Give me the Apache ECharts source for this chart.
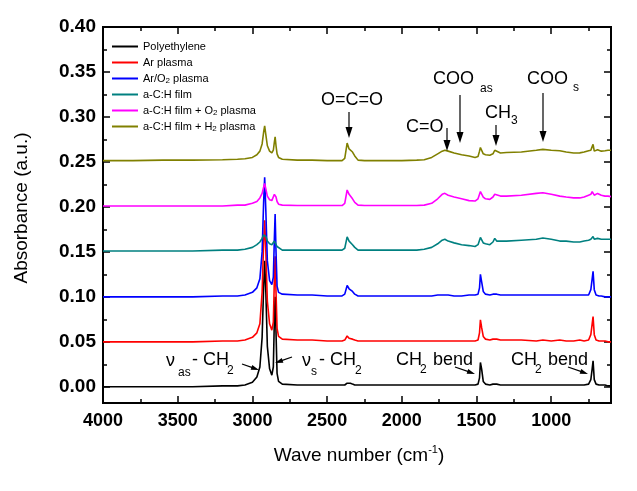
<!DOCTYPE html>
<html><head><meta charset="utf-8">
<script src="https://cdn.jsdelivr.net/npm/echarts@6/dist/echarts.min.js"></script>
<style>html,body{margin:0;padding:0;background:#fff}#c{width:637px;height:491px}</style>
</head><body><div id="c"></div>
<script>
// ---- data ----
const wavenumbers = [4000,3800,3600,3400,3200,3100,3050,3000,2970,2950,2935,2925,2918,2910,2900,2885,2870,2860,2853,2848,2842,2835,2825,2800,2700,2600,2500,2400,2382,2366,2353,2344,2330,2315,2293,2250,2100,2000,1900,1850,1800,1760,1730,1712,1690,1650,1600,1550,1510,1490,1480,1474,1466,1455,1440,1411,1390,1378,1365,1340,1300,1200,1100,1056,1000,943,900,850,809,780,750,735,726,720,712,700,690,680,665,640,620,600];

const polyethylene = [0.000,0.000,0.000,0.000,0.001,0.001,0.002,0.005,0.011,0.022,0.055,0.110,0.140,0.105,0.045,0.020,0.013,0.022,0.075,0.100,0.060,0.015,0.006,0.003,0.002,0.002,0.002,0.002,0.002,0.004,0.003,0.004,0.003,0.002,0.002,0.002,0.002,0.002,0.002,0.002,0.002,0.002,0.002,0.002,0.002,0.002,0.002,0.002,0.002,0.003,0.010,0.027,0.020,0.006,0.003,0.002,0.003,0.005,0.003,0.002,0.002,0.002,0.002,0.002,0.002,0.002,0.002,0.002,0.002,0.002,0.003,0.008,0.020,0.029,0.008,0.003,0.002,0.002,0.002,0.002,0.001,0.001];

const arPlasma = [0.050,0.050,0.050,0.050,0.051,0.051,0.052,0.055,0.060,0.070,0.105,0.160,0.185,0.150,0.095,0.070,0.063,0.072,0.120,0.145,0.105,0.065,0.056,0.053,0.052,0.052,0.051,0.051,0.052,0.0565,0.054,0.055,0.053,0.052,0.051,0.051,0.051,0.051,0.051,0.051,0.051,0.051,0.051,0.051,0.051,0.051,0.051,0.051,0.051,0.052,0.060,0.0745,0.066,0.056,0.053,0.052,0.053,0.054,0.053,0.052,0.052,0.052,0.051,0.052,0.051,0.052,0.051,0.051,0.052,0.051,0.052,0.058,0.070,0.078,0.058,0.052,0.052,0.051,0.051,0.051,0.050,0.050];

const arO2Plasma = [0.100,0.100,0.100,0.100,0.101,0.101,0.102,0.105,0.110,0.120,0.150,0.205,0.233,0.195,0.140,0.118,0.1135,0.122,0.165,0.192,0.150,0.112,0.105,0.103,0.102,0.102,0.101,0.101,0.103,0.1127,0.109,0.110,0.106,0.103,0.101,0.101,0.101,0.101,0.101,0.101,0.101,0.102,0.102,0.102,0.102,0.101,0.101,0.102,0.102,0.103,0.110,0.125,0.117,0.106,0.103,0.102,0.103,0.105,0.103,0.102,0.102,0.102,0.102,0.102,0.102,0.102,0.102,0.102,0.102,0.102,0.102,0.108,0.120,0.1285,0.108,0.102,0.102,0.101,0.101,0.100,0.100,0.100];

const acHFilm = [0.151,0.151,0.151,0.151,0.152,0.152,0.153,0.155,0.158,0.161,0.165,0.169,0.171,0.167,0.162,0.159,0.158,0.160,0.162,0.163,0.160,0.156,0.154,0.152,0.152,0.152,0.152,0.152,0.154,0.1667,0.162,0.163,0.158,0.155,0.152,0.152,0.152,0.152,0.152,0.153,0.155,0.159,0.163,0.164,0.162,0.160,0.158,0.157,0.156,0.158,0.163,0.166,0.164,0.160,0.159,0.158,0.161,0.165,0.162,0.162,0.162,0.163,0.164,0.1655,0.164,0.162,0.162,0.161,0.161,0.162,0.163,0.164,0.166,0.167,0.164,0.164,0.165,0.164,0.164,0.164,0.164,0.164];

const acHO2Plasma = [0.201,0.201,0.201,0.201,0.201,0.202,0.202,0.204,0.206,0.210,0.215,0.222,0.226,0.220,0.212,0.208,0.207,0.209,0.214,0.216,0.211,0.206,0.203,0.202,0.2015,0.2015,0.2015,0.2015,0.204,0.2188,0.214,0.215,0.209,0.205,0.202,0.2015,0.2015,0.2015,0.2015,0.202,0.204,0.209,0.214,0.2151,0.213,0.211,0.209,0.207,0.2065,0.209,0.214,0.217,0.215,0.211,0.209,0.2084,0.211,0.214,0.212,0.212,0.212,0.213,0.215,0.2158,0.214,0.212,0.211,0.210,0.210,0.211,0.213,0.214,0.217,0.2184,0.213,0.214,0.215,0.213,0.213,0.212,0.212,0.2114];

const acHH2Plasma = [0.2515,0.2515,0.252,0.252,0.2525,0.253,0.2535,0.255,0.258,0.262,0.270,0.283,0.290,0.280,0.268,0.262,0.260,0.263,0.272,0.278,0.268,0.259,0.255,0.253,0.252,0.252,0.2515,0.2515,0.254,0.2709,0.2645,0.266,0.261,0.2567,0.252,0.2515,0.2515,0.2515,0.252,0.2525,0.255,0.259,0.262,0.263,0.262,0.260,0.258,0.2565,0.255,0.256,0.262,0.266,0.264,0.259,0.258,0.2575,0.259,0.263,0.261,0.260,0.2605,0.261,0.263,0.264,0.263,0.2625,0.261,0.260,0.2601,0.261,0.2625,0.263,0.267,0.2695,0.262,0.263,0.2635,0.262,0.262,0.2625,0.263,0.263];

const seriesNames = ['Polyethylene','Ar plasma','Ar/O2 plasma','a-C:H film','a-C:H film + O2 plasma','a-C:H film + H2 plasma'];
const seriesValues = [polyethylene, arPlasma, arO2Plasma, acHFilm, acHO2Plasma, acHH2Plasma];
const xMajorTicks = [4000,3500,3000,2500,2000,1500,1000];
const xMinorTicks = [3750,3250,2750,2250,1750,1250,750];
const yMajorTicks = [0,0.05,0.10,0.15,0.20,0.25,0.30,0.35,0.40];
const yMinorTicks = [0.025,0.075,0.125,0.175,0.225,0.275,0.325,0.375];

// ---- styles ----
const colors = ['#000000','#ff0000','#0000ff','#008080','#ff00ff','#808000'];
const FONT = '"Liberation Sans", Arial, Helvetica, sans-serif';

const chart = echarts.init(document.getElementById('c'), null, {renderer:'canvas'});

function xAx(position, ticks, len, showLabels){
  return {
    type:'value', position, inverse:true, min:600, max:4000,
    splitLine:{show:false},
    axisLine:{show:true, onZero:false, lineStyle:{color:'#000', width:2}},
    axisTick:{show:true, inside:true, length:len, customValues:ticks, lineStyle:{color:'#000', width:1.5}},
    axisLabel: showLabels ? {show:true, customValues:xMajorTicks, fontSize:18, fontWeight:'bold', fontFamily:FONT, color:'#000', margin:9,
      formatter:v=>String(Math.round(v))} : {show:false}
  };
}
function yAx(position, ticks, len, showLabels){
  return {
    type:'value', position, min:-0.018, max:0.40,
    splitLine:{show:false},
    axisLine:{show:true, onZero:false, lineStyle:{color:'#000', width:2}},
    axisTick:{show:true, inside:true, length:len, customValues:ticks, lineStyle:{color:'#000', width:1.5}},
    axisLabel: showLabels ? {show:true, customValues:yMajorTicks, fontSize:19, fontWeight:'bold', fontFamily:FONT, color:'#000', margin:7,
      formatter:v=>v.toFixed(2)} : {show:false}
  };
}

function txt(x, y, s, size, align){
  return {type:'text', x, y, z:100, style:{text:s, fontSize:size, fontFamily:FONT, fill:'#000', align:align||'left', verticalAlign:'middle'}};
}
function arrow(x1,y1,x2,y2,hl,hw){
  const dx=x2-x1, dy=y2-y1, L=Math.hypot(dx,dy), ux=dx/L, uy=dy/L;
  const bx=x2-ux*hl, by=y2-uy*hl, px=-uy, py=ux;
  return [
    {type:'line', z:100, shape:{x1,y1,x2:bx+ux*1,y2:by+uy*1}, style:{stroke:'#000', lineWidth:1.2}},
    {type:'polygon', z:100, shape:{points:[[x2,y2],[bx+px*hw/2,by+py*hw/2],[bx-px*hw/2,by-py*hw/2]]}, style:{fill:'#000'}}
  ];
}

const graphics = [].concat(
  // axis titles
  [{type:'text', x:22, y:208, rotation:Math.PI/2, z:100, style:{text:'Absorbance (a.u.)', fontSize:19, fontFamily:FONT, fill:'#000', align:'center', verticalAlign:'middle'}}],
  [{type:'text', x:359, y:456, z:100, style:{text:'Wave number (cm{sup|-1})', fontSize:19, fontFamily:FONT, fill:'#000', align:'center', verticalAlign:'middle', lineHeight:24,
     rich:{sup:{fontSize:11, fontFamily:FONT, fill:'#000', verticalAlign:'top', lineHeight:12}}}}],
  // top annotations
  [txt(352,100,'O=C=O',18,'center')], arrow(349,112,349,138,11,7),
  [txt(406,127,'C=O',18)], arrow(447,128,447,151,11,7),
  [txt(433,79,'COO',18), txt(480,89,'as',12)], arrow(460,95,460,143,11,7),
  [txt(485,113,'CH',18), txt(511,121,'3',12)], arrow(496,125,496,146,11,7),
  [txt(527,79,'COO',18), txt(573,88,'s',12)], arrow(543,93,543,142,11,7),
  // bottom annotations
  [txt(166,361,'ν',18), txt(178,373,'as',12), txt(192,360,'- CH',18), txt(227,371,'2',12)], arrow(242,364,259,370,8,5),
  [txt(302,361,'ν',18), txt(311,372,'s',12), txt(319,360,'- CH',18), txt(355,371,'2',12)], arrow(292,357,275,363,8,5),
  [txt(396,360,'CH',18), txt(420,370,'2',12), txt(433,360,'bend',18)], arrow(455,367,475,374,8,5),
  [txt(511,360,'CH',18), txt(535,370,'2',12), txt(548,360,'bend',18)], arrow(568,367,588,374,8,5)
);

const option = {
  animation:false,
  backgroundColor:'#fff',
  grid:{left:103, right:26, top:27, bottom:88},
  xAxis:[xAx('bottom',xMajorTicks,7,true), xAx('bottom',xMinorTicks,4,false), xAx('top',xMajorTicks,7,false), xAx('top',xMinorTicks,4,false)],
  yAxis:[yAx('left',yMajorTicks,7,true), yAx('left',yMinorTicks,4,false), yAx('right',yMajorTicks,7,false), yAx('right',yMinorTicks,4,false)],
  legend:{
    orient:'vertical', left:112, top:40, padding:0, itemWidth:26, itemHeight:2, itemGap:3, icon:'rect', selectedMode:false,
    data:seriesNames,
    formatter:n=>n.replace('O2','O{sub|2}').replace('H2','H{sub|2}'),
    textStyle:{fontSize:11, fontFamily:FONT, color:'#000', lineHeight:13,
      rich:{sub:{fontSize:8, fontFamily:FONT, color:'#000', verticalAlign:'bottom', lineHeight:8}}}
  },
  series: seriesNames.map((n,i)=>({
    name:n, type:'line', xAxisIndex:0, yAxisIndex:0, showSymbol:false, symbol:'none',
    data: wavenumbers.map((w,j)=>[w, seriesValues[i][j]]),
    lineStyle:{color:colors[i], width:1.6}, itemStyle:{color:colors[i]}
  })),
  graphic: graphics
};
chart.setOption(option);
</script>
</body></html>
